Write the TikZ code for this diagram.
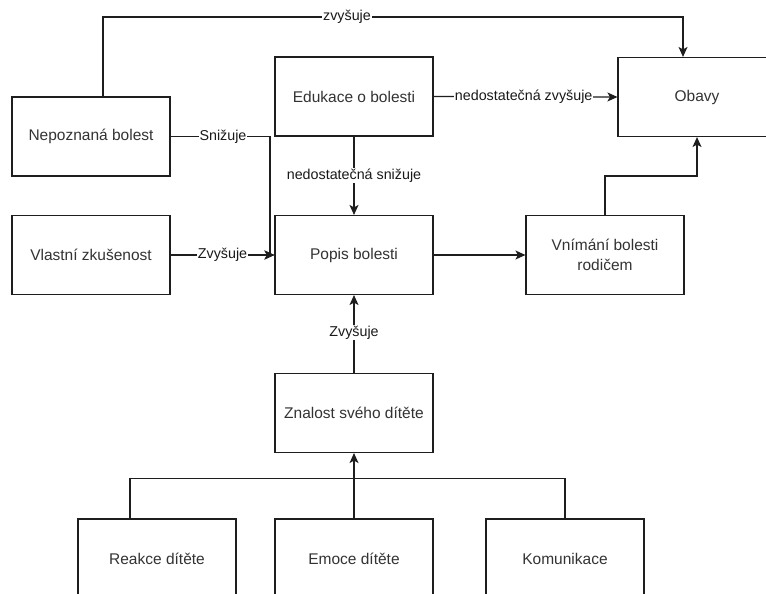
\documentclass[tikz,border=0pt]{standalone}
\usepackage{fontspec}
\setmainfont{Liberation Sans}
\usetikzlibrary{arrows.meta,calc}
\definecolor{linec}{HTML}{1E1E1E}
\definecolor{boxtext}{HTML}{333333}
\tikzset{
  box/.style={draw=linec, line width=1.15pt, fill=white, rectangle,
    minimum width=158pt, minimum height=79pt, inner sep=2pt,
    text=boxtext, align=center,
    font=\fontsize{15.5}{20}\selectfont},
  conn/.style={draw=linec, line width=1.15pt},
  arr/.style={conn, -{Stealth[length=10pt,width=9pt,inset=2.5pt]}},
  lbl/.style={fill=white, inner sep=1pt, text=black!90,
    font=\fontsize{14.3}{16}\selectfont}
}
\begin{document}
\begin{tikzpicture}[x=1pt,y=-1pt]
\useasboundingbox (0,0) rectangle (766,594);
\fill[white] (0,0) rectangle (766,594);

% boxes
\node[box] (nep)   at (91,136.5)  {Nepoznaná bolest};
\node[box] (edu)   at (354,96.5)  {Edukace o bolesti};
\node[box] (obavy) at (697,97)    {Obavy};
\node[box] (vl)    at (91,255)    {Vlastní zkušenost};
\node[box] (popis) at (354,255)   {Popis bolesti};
\node[box] (vnim)  at (605,255)   {Vnímání bolesti\\rodičem};
\node[box] (znal)  at (354,413)   {Znalost svého dítěte};
\node[box] (reak)  at (157,558.5) {Reakce dítěte};
\node[box] (emo)   at (354,558.5) {Emoce dítěte};
\node[box] (kom)   at (565,558.5) {Komunikace};

% connectors
\coordinate (topL) at (103,17);
\coordinate (topR) at (683,17);
\draw[arr] ([xshift=12pt]nep.north) -- (topL) -- (topR) -- ([xshift=-14pt]obavy.north);
\node[lbl] at (347,17) {zvyšuje};

\coordinate (sn1) at (270,136.5);
\coordinate (sn2) at (270,255);
\draw[arr] (nep.east) -- (sn1) -- (sn2) -- (popis.west);
\node[lbl] at (223,136.5) {Snižuje};

\draw[arr] (vl.east) -- node[lbl]{Zvyšuje} (popis.west);

\draw[arr] (edu.east) -- node[lbl, pos=0.49]{nedostatečná zvyšuje} (obavy.west);
\draw[arr] (edu.south) -- node[lbl]{nedostatečná snižuje} (popis.north);

\draw[arr] (popis.east) -- (vnim.west);

\coordinate (vn1) at (605,176);
\draw[arr] (vnim.north) -- (vn1) -| (obavy.south);

\draw[arr] (znal.north) -- node[lbl, pos=0.52]{Zvyšuje} (popis.south);

\draw[arr] (emo.north) -- (znal.south);
\draw[conn] ([xshift=-27pt]reak.north) -- ++(0,-40) -| (kom.north);
\end{tikzpicture}
\end{document}
